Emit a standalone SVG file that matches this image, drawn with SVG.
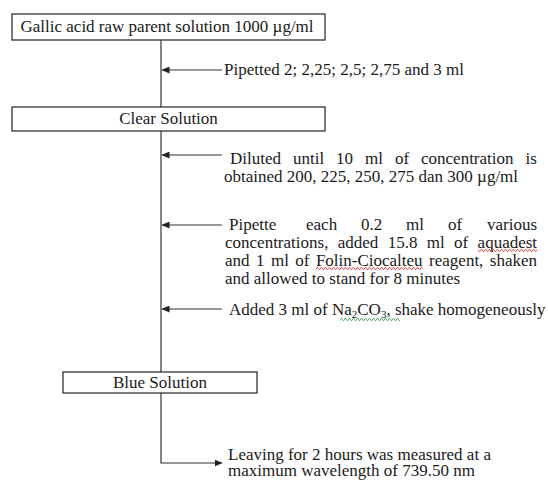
<svg xmlns="http://www.w3.org/2000/svg" width="548" height="480" viewBox="0 0 548 480">
  <style>
    .box { fill: #ffffff; stroke: #333333; stroke-width: 1.3; }
    .txt { font-family: "Liberation Serif", "Times New Roman", serif; font-size: 17px; fill: #1a1a1a; }
    .mid { text-anchor: middle; }
    .wire { fill: none; stroke: #333333; stroke-width: 1.2; }
    .sub { font-size: 11px; }
  </style>
  <defs>
    <marker id="head" viewBox="0 0 8 7" refX="7.5" refY="3.5" markerWidth="8" markerHeight="7" markerUnits="userSpaceOnUse" orient="auto">
      <path d="M0,0 L8,3.5 L0,7 z" fill="#222222"/>
    </marker>
    <!-- spell-check squiggles -->
    <pattern id="waveRed" width="4" height="3" patternUnits="userSpaceOnUse">
      <path d="M0,2.5 L1,0.5 L2,0.5 L3,2.5 L4,2.5" fill="none" stroke="#e23a3a" stroke-width="0.8"/>
    </pattern>
    <pattern id="waveGreen" width="4" height="3" patternUnits="userSpaceOnUse">
      <path d="M0,2.5 L1,0.5 L2,0.5 L3,2.5 L4,2.5" fill="none" stroke="#3aa34a" stroke-width="0.8"/>
    </pattern>
  </defs>

  <rect width="548" height="480" fill="#ffffff"/>

  <!-- connectors -->
  <g id="connectors">
    <line class="wire" x1="161" y1="40" x2="161" y2="107"/>
    <line class="wire" x1="161" y1="131" x2="161" y2="372"/>
    <polyline class="wire" points="161,393 161,463 222,463" marker-end="url(#head)"/>
    <line class="wire" x1="222" y1="70" x2="162" y2="70" marker-end="url(#head)"/>
    <line class="wire" x1="222" y1="155" x2="162" y2="155" marker-end="url(#head)"/>
    <line class="wire" x1="222" y1="225" x2="162" y2="225" marker-end="url(#head)"/>
    <line class="wire" x1="222" y1="309" x2="162" y2="309" marker-end="url(#head)"/>
  </g>

  <!-- process boxes -->
  <g id="parent-solution">
    <rect class="box" x="12" y="14" width="313" height="26"/>
    <text class="txt" x="20.5" y="31.5">Gallic acid raw parent solution 1000 µg/ml</text>
  </g>

  <g id="clear-solution">
    <rect class="box" x="12" y="107" width="313" height="24"/>
    <text class="txt mid" x="168.5" y="123.5">Clear Solution</text>
  </g>

  <g id="blue-solution">
    <rect class="box" x="63" y="372" width="194" height="21"/>
    <text class="txt mid" x="160" y="387.5">Blue Solution</text>
  </g>

  <!-- step annotations -->
  <g id="step-pipetted">
    <text class="txt" x="224" y="75">Pipetted 2; 2,25; 2,5; 2,75 and 3 ml</text>
  </g>

  <g id="step-diluted">
    <text class="txt" y="164">
      <tspan x="230">Diluted</tspan><tspan x="293">until</tspan><tspan x="336">10</tspan><tspan x="365">ml</tspan><tspan x="395">of</tspan><tspan x="421">concentration</tspan><tspan x="525.6">is</tspan>
    </text>
    <text class="txt" x="224" y="182">obtained 200, 225, 250, 275 dan 300 µg/ml</text>
  </g>

  <g id="step-reagent">
    <text class="txt" y="230">
      <tspan x="229">Pipette</tspan><tspan x="306">each</tspan><tspan x="361">0.2</tspan><tspan x="406">ml</tspan><tspan x="448">of</tspan><tspan x="487">various</tspan>
    </text>
    <text class="txt" y="248">
      <tspan x="225">concentrations,</tspan><tspan x="337.7">added</tspan><tspan x="387.7">15.8</tspan><tspan x="426.8">ml</tspan><tspan x="454.1">of</tspan><tspan x="477.6">aquadest</tspan>
    </text>
    <text class="txt" y="266">
      <tspan x="225">and</tspan><tspan x="256">1</tspan><tspan x="271">ml</tspan><tspan x="295.3">of</tspan><tspan x="315.9">Folin-Ciocalteu</tspan><tspan x="429.1">reagent,</tspan><tspan x="489.8">shaken</tspan>
    </text>
    <text class="txt" x="225" y="284">and allowed to stand for 8 minutes</text>
    <rect x="477.6" y="249" width="59.5" height="3" fill="url(#waveRed)"/>
    <rect x="315.9" y="267" width="106.7" height="3" fill="url(#waveRed)"/>
  </g>

  <g id="step-carbonate">
    <text class="txt" x="229" y="315">Added 3 ml of Na<tspan class="sub" dy="3">2</tspan><tspan dy="-3">CO</tspan><tspan class="sub" dy="3">3</tspan><tspan dy="-3">, shake homogeneously</tspan></text>
    <rect x="340" y="318" width="60" height="3" fill="url(#waveGreen)"/>
  </g>

  <g id="step-measure">
    <text class="txt" x="228" y="459.5">Leaving for 2 hours was measured at a</text>
    <text class="txt" x="228" y="476">maximum wavelength of 739.50 nm</text>
  </g>
</svg>
